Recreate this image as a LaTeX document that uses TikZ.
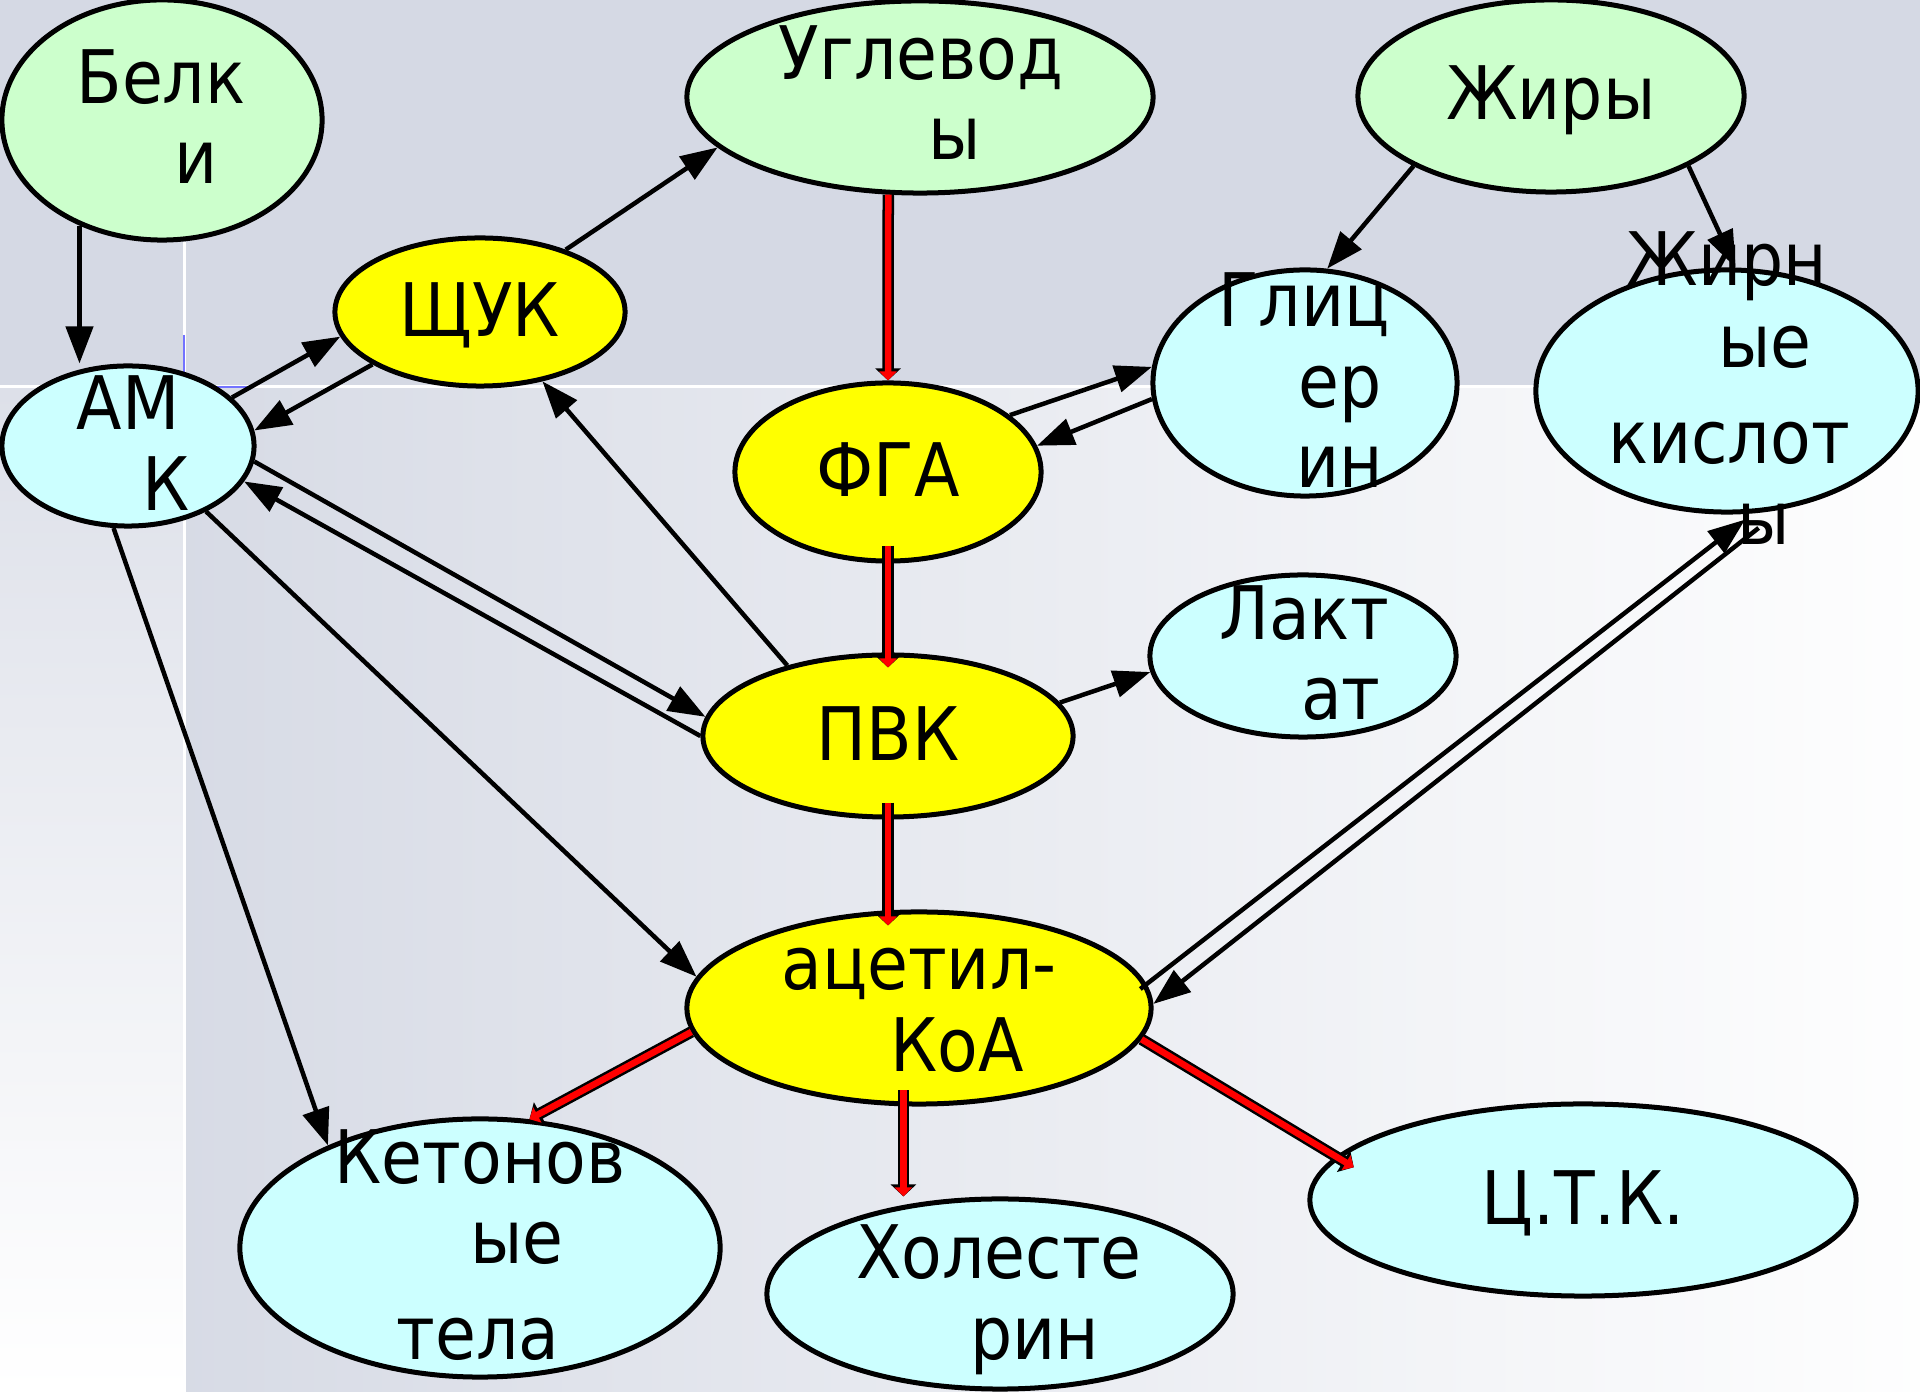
\documentclass[tikz,border=0pt]{standalone}
\usepackage{fontspec}
\setmainfont{DejaVu Sans Condensed}
\usepackage{tikz}
\usetikzlibrary{arrows.meta,shapes.geometric}

\definecolor{topbg}{RGB}{213,217,228}
\definecolor{lowbg}{RGB}{221,224,233}
\definecolor{grn}{RGB}{204,255,204}
\definecolor{cyn}{RGB}{204,255,255}
\definecolor{yel}{RGB}{255,255,0}

\begin{document}
\begin{tikzpicture}[x=0.01cm,y=-0.01cm,
  ell/.style={ellipse,draw,line width=0.05cm,inner sep=0pt,text height=0.54cm,text depth=0.06cm,
    font=\fontsize{21pt}{23pt}\selectfont},
  txt/.style={anchor=base,inner sep=0pt,font=\fontsize{21pt}{23pt}\selectfont},
  arr/.style={line width=0.045cm,-{Triangle[length=0.37cm,width=0.27cm]}},
  redarr/.style={draw=red,line width=0.065cm,-{Triangle[length=0.09cm,width=0.17cm]},
    preaction={draw=black,line width=0.115cm,-{Triangle[length=0.12cm,width=0.25cm]}}}]
\useasboundingbox (0,0) rectangle (1920,1392);
% background of the slide
\fill[topbg] (0,0) rectangle (1920,387);
\shade[top color=lowbg,bottom color=white] (0,387) rectangle (184,1392);
\shade[left color=topbg!95!white,right color=white!97!topbg] (184,387) rectangle (1920,1392);
\draw[white,line width=0.03cm] (0,387) -- (1920,387);
\draw[white,line width=0.03cm] (184,242) -- (184,1392);
\draw[blue!55,line width=0.02cm] (184,335) -- (184,387) -- (250,387);

% substances
\node[ell,fill=grn,minimum width=3.2cm,minimum height=2.4cm] (belki) at (162,120) {};
\node[ell,fill=grn,minimum width=4.66cm,minimum height=1.92cm] (uglev) at (920,97) {};
\node[ell,fill=grn,minimum width=3.86cm,minimum height=1.92cm] (zhiry) at (1551,96) {Жиры};
\node[ell,fill=yel,minimum width=2.9cm,minimum height=1.48cm] (shchuk) at (480,312) {ЩУК};
\node[ell,fill=cyn,minimum width=2.52cm,minimum height=1.6cm] (amk) at (128,446) {};
\node[ell,fill=yel,minimum width=3.06cm,minimum height=1.78cm] (fga) at (888,472) {ФГА};
\node[ell,fill=cyn,minimum width=3.04cm,minimum height=2.26cm] (glic) at (1305,383) {};
\node[ell,fill=cyn,minimum width=3.82cm,minimum height=2.42cm] (zhk) at (1727,391) {};
\node[ell,fill=yel,minimum width=3.7cm,minimum height=1.62cm] (pvk) at (888,736) {ПВК};
\node[ell,fill=cyn,minimum width=3.06cm,minimum height=1.62cm] (laktat) at (1303,656) {};
\node[ell,fill=yel,minimum width=4.64cm,minimum height=1.92cm] (acetil) at (919,1008) {};
\node[ell,fill=cyn,minimum width=4.8cm,minimum height=2.58cm] (keton) at (480,1248) {};
\node[ell,fill=cyn,minimum width=4.66cm,minimum height=1.9cm] (holest) at (1000,1294) {};
\node[ell,fill=cyn,minimum width=5.46cm,minimum height=1.92cm] (ctk) at (1583,1200) {Ц.Т.К.};

% black arrows
\draw[arr] (belki.232) -- (belki.232 |- amk.north);
\draw[arr] (shchuk.36) -- (uglev.194);
\draw[arr] (amk.25) -- (shchuk.190);
\draw[arr] (shchuk.206) -- (amk.7);
\draw[arr] (zhiry.207) -- (glic.79);
\draw[arr] (zhiry.333) -- (zhk.86);
\draw[arr] (fga.25) -- (glic.174);
\draw[arr] (glic.186) -- (fga.10);
\draw[arr] (amk.353) -- (pvk.174);
\draw[arr] (pvk.180) -- (amk.343);
\draw[arr] (pvk.145) -- (shchuk.312);
\draw[arr] (pvk.11) -- (laktat.186);
\draw[arr] (amk.320) -- (acetil.172);
\draw[arr] (amk.260) -- (keton.146);
\draw[arr,shorten <=-0.08cm,shorten >=0.1cm] (acetil.6) -- (zhk.282);
\draw[arr,shorten <=0.3cm] (zhk.295) -- (acetil.1);

% red arrows
\draw[redarr] (uglev.252) -- (fga.north);
\draw[redarr,shorten <=-0.18cm,shorten >=-0.15cm] (fga.south) -- (pvk.north);
\draw[redarr,shorten <=-0.17cm,shorten >=-0.16cm] (pvk.south) -- (pvk.south |- acetil.north);
\draw[redarr] (acetil.186) -- (keton.69);
\draw[redarr,shorten <=-0.16cm] (acetil.261) -- (acetil.261 |- holest.north);
\draw[redarr,shorten >=-0.21cm] (acetil.352) -- (ctk.170);

% broken lines of text
\foreach \x/\y/\w [count=\i] in {161/104/Белк,196/184/и,921/80/Углевод,955/160/ы,
  128/430/АМ,166/511/К,1304/327/Глиц,1340/408/ер,1340/488/ин,
  1727/286/Жирн,1765/368/ые,1729/464/кислот,1764/545/ы,1304/640/Лакт,1341/720/ат,
  919/990/ацетил-,957/1072/КоА,480/1184/Кетонов,517/1264/ые,478/1360/тела,
  999/1279/Холесте,1035/1360/рин} {
  \node[txt] (line\i) at (\x,\y) {\w};
}
\end{tikzpicture}
\end{document}
